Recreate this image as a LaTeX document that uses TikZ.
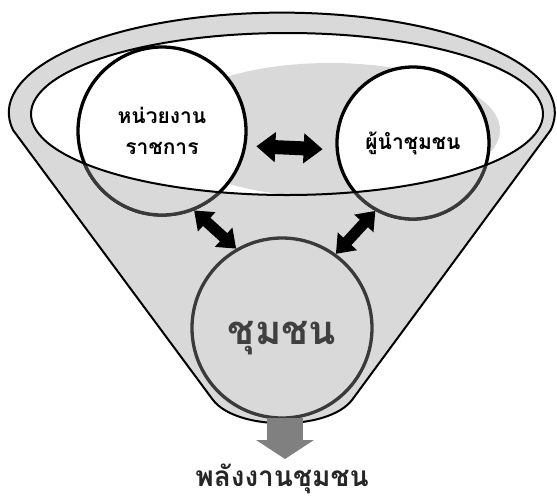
\documentclass[tikz,border=0pt]{standalone}
\usepackage{fontspec}
\newfontfamily\thaifont[Script=Thai]{Loma}
\usetikzlibrary{arrows.meta}
\definecolor{funnelgray}{RGB}{217,217,217}
\definecolor{lowgray}{RGB}{58,58,58}
\definecolor{textgray}{RGB}{64,64,64}
\definecolor{flowgray}{RGB}{128,128,128}

\begin{document}
\begin{tikzpicture}[x=1pt,y=-1pt,
  topcircle/.style={circle, draw=black, line width=3.3pt, fill=white, inner sep=0pt,
    align=center, font=\thaifont\bfseries\fontsize{21}{31}\selectfont},
  lowpart/.style={draw=lowgray, line width=3.3pt, fill=funnelgray},
  widearrow/.style={line width=14pt, arrows={Triangle[length=19pt,width=29pt]-Triangle[length=19pt,width=29pt]}},
  slantarrow/.style={line width=11pt, arrows={Triangle[length=17pt,width=25pt]-Triangle[length=17pt,width=25pt]}},
  flowarrow/.style={draw=flowgray, line width=36pt, -{Triangle[length=19pt,width=57pt]}}]
  \useasboundingbox (0,0) rectangle (557,499);

  % Funnel body
  \path[fill=funnelgray, draw=black, line width=2pt, line join=round]
    (13,130) arc[start angle=170, end angle=370, x radius=273, y radius=100]
    -- (352,400) .. controls (328,431) and (237,431) .. (213,400) -- cycle;

  % Opening (inner rim)
  \fill[white] (287,114) ellipse[x radius=256, y radius=81];
  \begin{scope}
    \clip (287,114) ellipse[x radius=256, y radius=81];
    \fill[funnelgray] (330,130) ellipse[x radius=170, y radius=67];
  \end{scope}

  % Circles
  \node[topcircle, minimum size=168pt] (gov) at (162,131) {หน่วยงาน\\ราชการ};
  \node[topcircle, minimum size=152pt] (lead) at (413,143) {ผู้นำชุมชน};
  \node[circle, lowpart, inner sep=0pt, minimum size=180pt, text=textgray,
    text height=32pt, text depth=0pt,
    font=\thaifont\bfseries\fontsize{40}{40}\selectfont] (comm) at (282,328) {ชุมชน};

  % Parts of the circles inside the funnel
  \begin{scope}
    \clip (0,114) -- (31,114) arc[start angle=180, end angle=0, x radius=256, y radius=81]
      -- (557,114) -- (557,499) -- (0,499) -- cycle;
    \draw[lowpart] (gov.center) circle[radius=84pt];
    \draw[lowpart] (lead.center) circle[radius=76pt];
  \end{scope}
  \draw[line width=2pt] (287,114) ellipse[x radius=256, y radius=81];

  % Links
  \draw[widearrow, shorten <=10pt, shorten >=13pt] (gov.-10) -- (lead.185);
  \draw[slantarrow] (gov.-68) -- (comm.120);
  \draw[slantarrow] (lead.-119) -- (comm.54);

  % Output
  \coordinate (fout) at (285,418);
  \node[anchor=base, font=\thaifont\bfseries\fontsize{28}{34}\selectfont, text=black!85] (energy) at (282,486) {พลังงานชุมชน};
  \draw[flowarrow] (fout) -- (fout |- 0,459);
\end{tikzpicture}
\end{document}
